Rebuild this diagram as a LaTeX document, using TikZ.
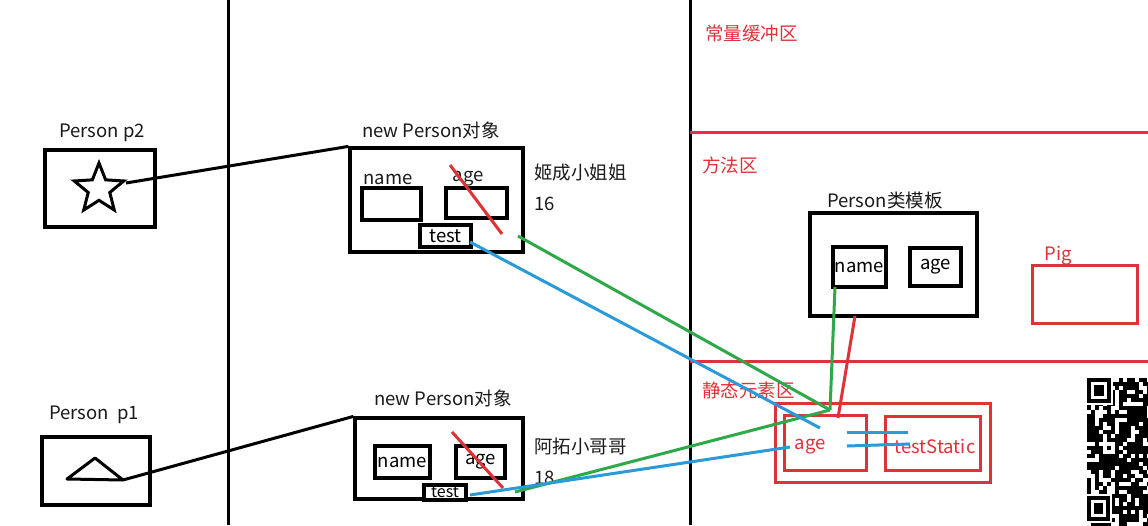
\documentclass[tikz,border=0pt]{standalone}
\usepackage{fontspec}
\setmainfont{Noto Sans CJK SC}
\usetikzlibrary{shapes.geometric}
\definecolor{myred}{HTML}{DD3238}
\definecolor{mygreen}{HTML}{2FA84A}
\definecolor{myblue}{HTML}{2A9AD8}
\definecolor{ink}{HTML}{1A1A1A}
\newcommand{\fs}{\fontsize{18.5}{20}\selectfont}
\tikzset{
  box/.style={draw=black, line width=3.2pt, inner sep=0pt},
  rbox/.style={draw=myred, line width=3pt, inner sep=0pt},
  lbl/.style={inner sep=0pt, font=\fs, text=ink},
  rlbl/.style={inner sep=0pt, font=\fs, text=myred},
  blk/.style={line width=3pt, draw=black},
  gr/.style={line width=3pt, draw=mygreen},
  bl/.style={line width=3pt, draw=myblue},
  rd/.style={line width=3pt, draw=myred},
}
\begin{document}
\begin{tikzpicture}[x=1pt,y=-1pt]
\useasboundingbox (0,0) rectangle (1148,525);
\fill[white] (0,0) rectangle (1148,525);

% column separators
\coordinate (v1t) at (228,0); \coordinate (v1b) at (228,525);
\coordinate (v2t) at (690,0); \coordinate (v2b) at (690,525);
\draw[blk] (v1t) -- (v1b);
\draw[blk] (v2t) -- (v2b);
\coordinate (h1l) at (690,132); \coordinate (h1r) at (1148,132);
\coordinate (h2l) at (690,361); \coordinate (h2r) at (1148,361);
\draw[rd] (h1l) -- (h1r);
\draw[rd] (h2l) -- (h2r);

% area labels
\node[rlbl, anchor=west] (a1) at (705,33) {常量缓冲区};
\node[rlbl, anchor=west] (a2) at (702,165) {方法区};
\node[rlbl, anchor=west] (a3) at (702,390) {静态元素区};

% stack: p2
\node[lbl] (p2l) at (102,133) {Person p2};
\node[box, minimum width=110pt, minimum height=77pt] (p2) at (100,188.5) {};
\node[star, star points=5, star point ratio=2.3, draw=black, line width=3pt, minimum size=52pt, inner sep=0pt] (st) at (99,189) {};
\coordinate (starR) at (126,183);

% stack: p1
\node[lbl] (p1l) at (94,415) {Person\ \ p1};
\node[box, minimum width=108pt, minimum height=68pt] (p1) at (96,471) {};
\coordinate (tA) at (67,479); \coordinate (tB) at (95,458); \coordinate (tC) at (123,480);
\draw[blk, line join=round] (tA) -- (tB) -- (tC) -- cycle;

% heap object 1
\node[lbl] (o1l) at (431,130) {new Person对象};
\node[box, minimum width=173pt, minimum height=104pt] (o1) at (436.5,200) {};
\node[box, minimum width=59pt, minimum height=32pt] (n1) at (391.5,204) {};
\node[box, minimum width=61pt, minimum height=30pt] (g1) at (476.5,203) {};
\node[lbl] (n1t) at (388,179) {name};
\node[lbl] (g1t) at (468,179) {age};
\node[box, minimum width=51pt, minimum height=22pt, fill=white, font=\fs] (t1) at (445.5,236) {test};
\node[lbl, anchor=west] (who1) at (534,173) {姬成小姐姐};
\node[lbl, anchor=west] (v1) at (534,204) {16};
\coordinate (x1a) at (450,165); \coordinate (x1b) at (502,234);
\draw[rd] (x1a) -- (x1b);

% heap object 2
\node[lbl] (o2l) at (443,398) {new Person对象};
\node[box, minimum width=168pt, minimum height=81pt] (o2) at (439,458.5) {};
\node[box, minimum width=55pt, minimum height=32pt, font=\fs] (n2) at (402.5,462) {name};
\node[box, minimum width=49pt, minimum height=32pt, font=\fs] (g2) at (480.5,462) {age};
\node[box, minimum width=42pt, minimum height=15pt, fill=white, font=\fontsize{16}{16}\selectfont] (t2) at (445,492.5) {test};
\node[lbl, anchor=west] (who2) at (534,446) {阿拓小哥哥};
\node[lbl, anchor=west] (v2) at (534,478) {18};
\coordinate (x2a) at (452,432); \coordinate (x2b) at (503,488);
\draw[rd] (x2a) -- (x2b);

% references
\draw[blk] (starR) -- (o1.north west);
\draw[blk] (tC) -- (o2.north west);

% method area: class template
\node[lbl] (cl) at (885,200) {Person类模板};
\node[box, minimum width=167pt, minimum height=103pt] (cls) at (893.5,264.5) {};
\node[box, minimum width=53pt, minimum height=40pt, font=\fs] (cn) at (859.5,267) {name};
\node[box, minimum width=51pt, minimum height=38pt, font=\fs] (ca) at (935.5,267) {age};

% Pig
\node[rlbl] (pigl) at (1058,256) {Pig};
\node[rbox, minimum width=105pt, minimum height=58pt] (pig) at (1084.5,294) {};

% static area
\node[rbox, minimum width=215pt, minimum height=79pt] (so) at (882.5,442.5) {};
\node[rbox, minimum width=82pt, minimum height=55pt] (sa) at (825,442.5) {};
\node[rbox, minimum width=95pt, minimum height=54pt] (ts) at (932.5,443) {};
\node[rlbl] (sat) at (810,447) {age};
\node[rlbl] (tst) at (935,446) {testStatic};

% coloured links
\coordinate (hub) at (830,410);
\coordinate (gs1) at (518,236);
\coordinate (gs2) at (515,492);
\coordinate (gs3) at (835,287);
\draw[gr] (gs1) -- (hub);
\draw[gr] (gs2) -- (hub);
\draw[gr] (gs3) -- (hub);
\coordinate (rs) at (855,316); \coordinate (re) at (838,418);
\draw[rd] (rs) -- (re);
\coordinate (bs1) at (470,242); \coordinate (be1) at (820,428);
\coordinate (bs2) at (470,495); \coordinate (be2) at (790,447);
\draw[bl] (bs1) -- (be1);
\draw[bl] (bs2) -- (be2);
\coordinate (d1a) at (847,432); \coordinate (d1b) at (908,432);
\coordinate (d2a) at (847,446); \coordinate (d2b) at (910,444);
\draw[bl] (d1a) -- (d1b);
\draw[bl] (d2a) -- (d2b);

% QR code fragment
\begin{scope}
\clip (1085,376) rectangle (1148,525);
\pgfmathsetseed{17}
\foreach \i in {0,...,15}{
  \foreach \j in {0,...,36}{
    \pgfmathrandominteger{\r}{0}{2}
    \ifnum\r>0 \fill[black] (1087+4*\i,378+4*\j) rectangle ++(4,4);\fi
  }
}
\fill[white] (1086,377) rectangle (1113,405);
\fill[black] (1087,378) rectangle (1111,403);
\fill[white] (1091,382) rectangle (1107,399);
\fill[black] (1094,385) rectangle (1104,396);
\fill[white] (1086,494) rectangle (1112,523);
\fill[black] (1087,496) rectangle (1110,521);
\fill[white] (1091,500) rectangle (1106,517);
\fill[black] (1094,503) rectangle (1103,514);
\end{scope}
\end{tikzpicture}
\end{document}
